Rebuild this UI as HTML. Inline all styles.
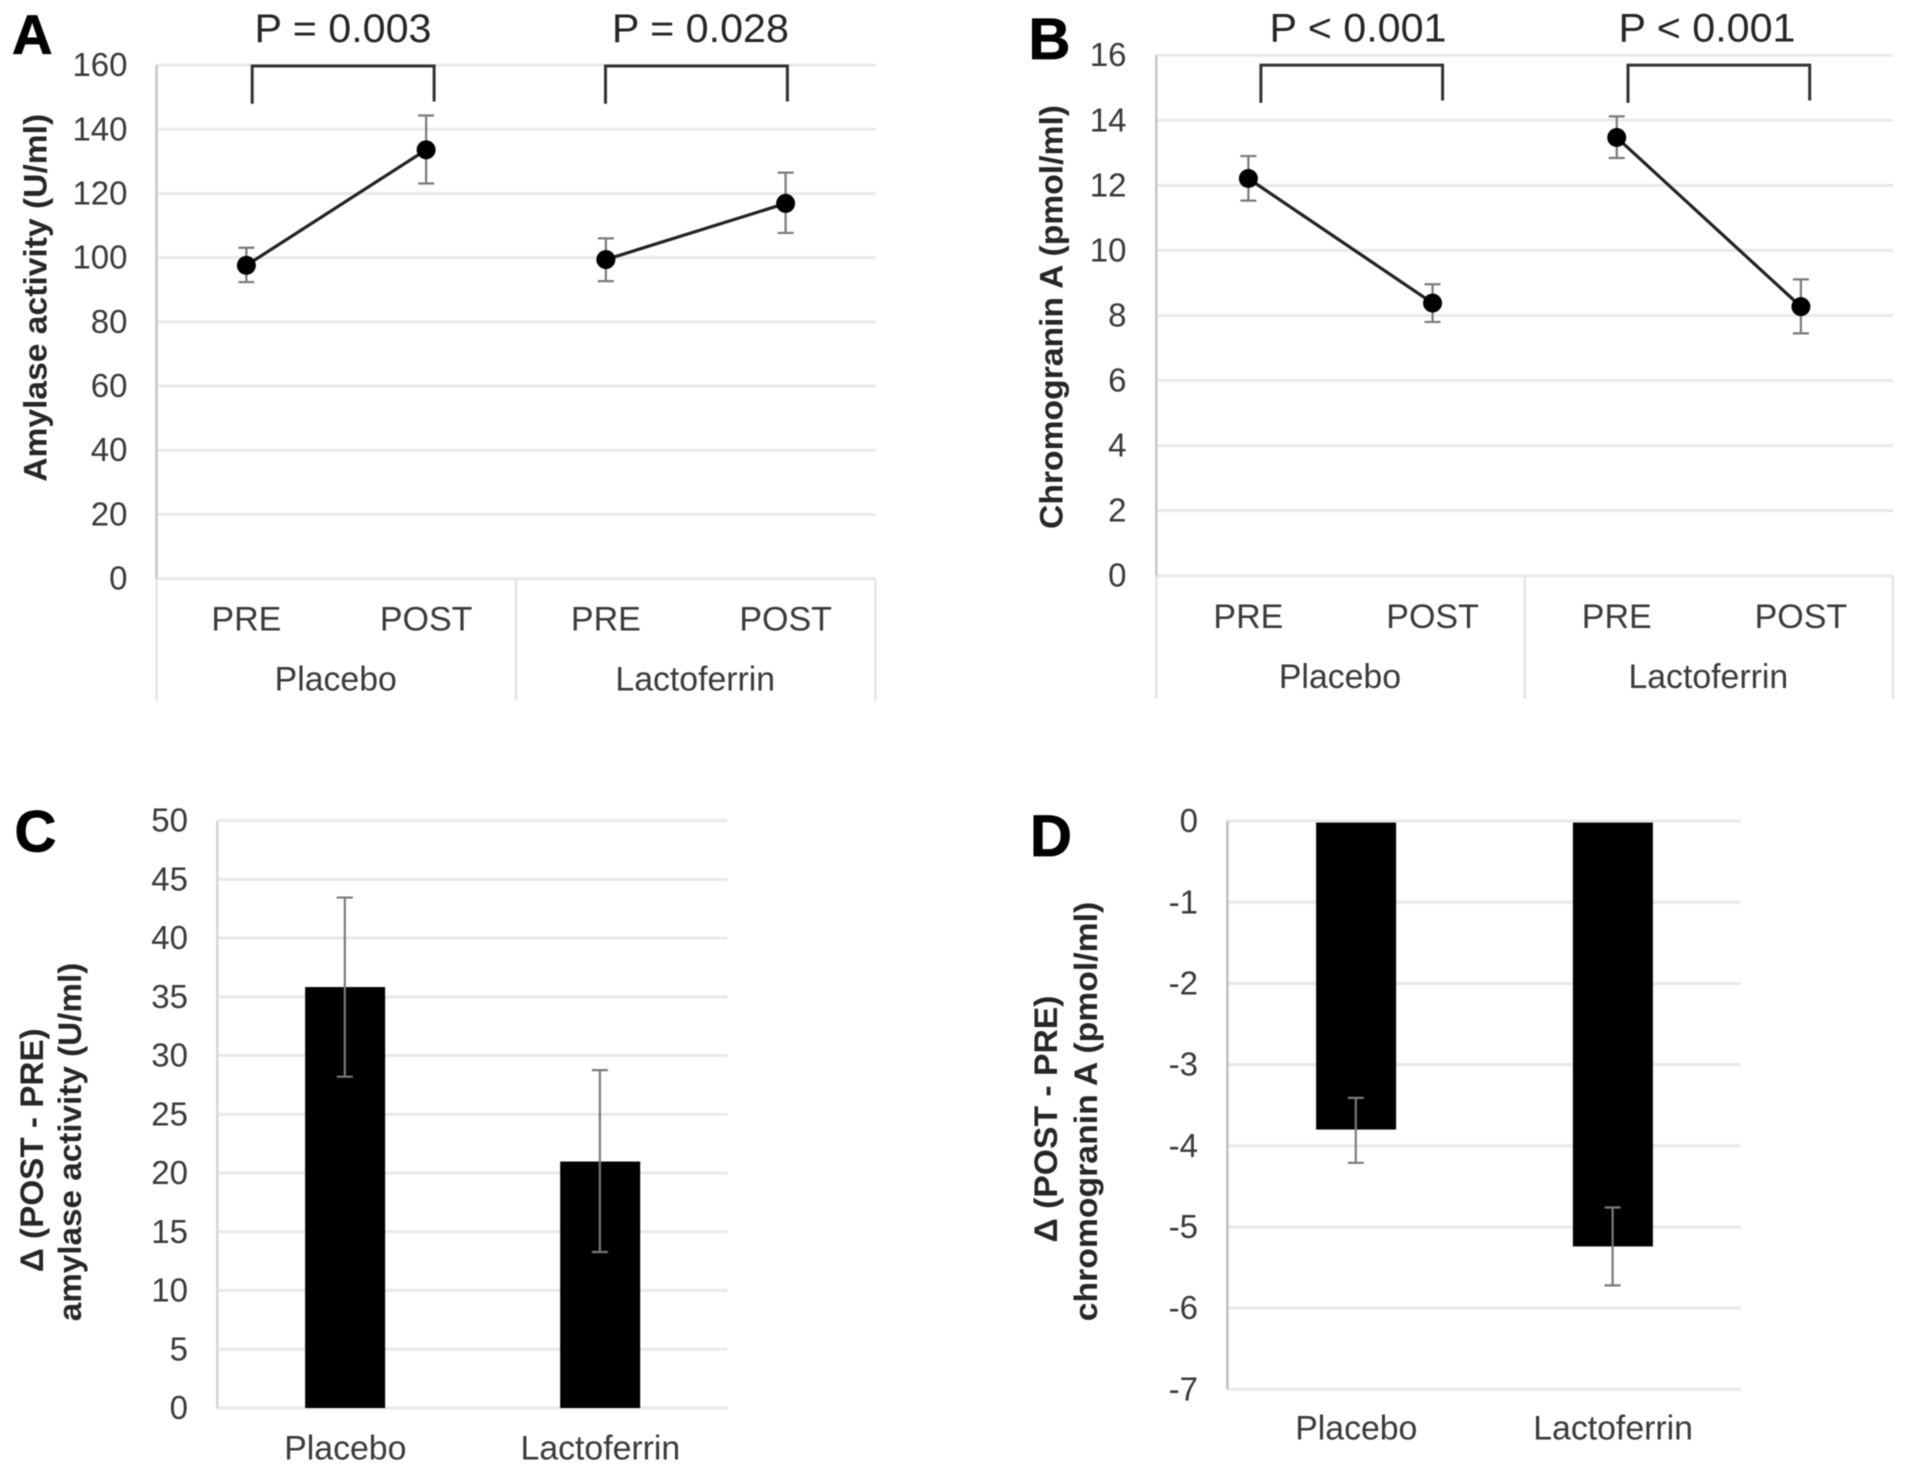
<!DOCTYPE html>
<html lang="en">
<head>
<meta charset="utf-8">
<title>Amylase activity and chromogranin A, placebo vs lactoferrin</title>
<style>
  html, body { margin: 0; padding: 0; background: #fff; }
  #figure { display: block; width: 1913px; height: 1475px; filter: blur(0.6px); }
  text { font-family: "Liberation Sans", sans-serif; }
</style>
</head>
<body>
<svg id="figure" xmlns="http://www.w3.org/2000/svg" width="1913" height="1475" viewBox="0 0 1913 1475"></svg>
<script>
// Panel A data
const aGroups = ['Placebo', 'Lactoferrin'];
const aPhases = ['PRE', 'POST'];
const aTicks = [0, 20, 40, 60, 80, 100, 120, 140, 160];
const aValues = [97.6, 133.6, 99.4, 116.9];
const aErrLow = [92.4, 123.1, 92.7, 107.7];
const aErrHigh = [103.1, 144.3, 106, 126.5];
const aPValues = ['P = 0.003', 'P = 0.028'];

// Panel B data
const bGroups = ['Placebo', 'Lactoferrin'];
const bPhases = ['PRE', 'POST'];
const bTicks = [0, 2, 4, 6, 8, 10, 12, 14, 16];
const bValues = [12.21, 8.38, 13.47, 8.27];
const bErrLow = [11.53, 7.8, 12.84, 7.45];
const bErrHigh = [12.9, 8.96, 14.12, 9.11];
const bPValues = ['P < 0.001', 'P < 0.001'];

// Panel C data
const cCategories = ['Placebo', 'Lactoferrin'];
const cTicks = [0, 5, 10, 15, 20, 25, 30, 35, 40, 45, 50];
const cValues = [35.83, 20.98];
const cErrLow = [28.2, 13.28];
const cErrHigh = [43.45, 28.76];

// Panel D data
const dCategories = ['Placebo', 'Lactoferrin'];
const dTicks = [0, -1, -2, -3, -4, -5, -6, -7];
const dValues = [-3.8, -5.24];
const dErrLow = [-4.21, -5.72];
const dErrHigh = [-3.41, -4.76];

const svg = document.getElementById('figure');
const NS = 'http://www.w3.org/2000/svg';

function add(parent, tag, attrs, name, content) {
  const el = document.createElementNS(NS, tag);
  for (const k in attrs) el.setAttribute(k, attrs[k]);
  
  
  if (content !== undefined) el.textContent = content;
  parent.appendChild(el);
  return el;
}

function panelGroup(name) {
  return add(svg, 'g', {}, name);
}

function linearAxis(min, max, bottom, top) {
  return v => bottom - (v - min) / (max - min) * (bottom - top);
}

function bandAxis(count, left, right) {
  const step = (right - left) / count;
  return i => left + step * (i + 0.5);
}

function drawFrame(g, layout, ticks, y) {
  ticks.forEach(t => {
    add(g, 'line', { x1: layout.left, x2: layout.right, y1: y(t), y2: y(t), stroke: '#e9e9e9', 'stroke-width': 3 }, 'gridline-' + t);
  });
  add(g, 'line', { x1: layout.left, x2: layout.left, y1: layout.top, y2: layout.bottom, stroke: layout.axisColor, 'stroke-width': 2.4 }, 'y-axis-line');
  ticks.forEach(t => {
    add(g, 'text', { x: layout.tickRight, y: y(t) + 11, 'text-anchor': 'end', 'font-size': 33, fill: '#3a3a3a' }, 'y-tick-label-' + t, String(t));
  });
}

function drawLetter(g, letter, x, y, size) {
  add(g, 'text', { x: x, y: y, 'font-size': size, 'font-weight': 'bold', fill: '#000', stroke: '#000', 'stroke-width': 0.8 }, 'panel-label-' + letter.toLowerCase(), letter);
}

function drawYTitle(g, text, baselineX, centerY, length, name) {
  add(g, 'text', {
    x: 0, y: 0,
    transform: 'translate(' + baselineX + ',' + centerY + ') rotate(-90)',
    'text-anchor': 'middle', 'font-size': 32, 'font-weight': 'bold', fill: '#262626',
    textLength: length, lengthAdjust: 'spacingAndGlyphs'
  }, name, text);
}

function drawError(g, x, y, low, high, name) {
  const cap = 8;
  const err = add(g, 'g', { stroke: '#7a7a7a', 'stroke-width': 2.2 }, name);
  add(err, 'line', { x1: x, x2: x, y1: y(high), y2: y(low) }, name + '-stem');
  add(err, 'line', { x1: x - cap, x2: x + cap, y1: y(high), y2: y(high) }, name + '-cap-high');
  add(err, 'line', { x1: x - cap, x2: x + cap, y1: y(low), y2: y(low) }, name + '-cap-low');
}

function drawLinePanel(id, layout, groups, phases, ticks, values, errLow, errHigh, pValues) {
  const g = panelGroup('panel-' + id);
  const y = linearAxis(ticks[0], ticks[ticks.length - 1], layout.bottom, layout.top);
  const x = bandAxis(groups.length * phases.length, layout.left, layout.right);
  drawFrame(g, layout, ticks, y);

  // multi-level category axis separators
  const mid = (layout.left + layout.right) / 2;
  [layout.left, mid, layout.right].forEach((sx, i) => {
    add(g, 'line', { x1: sx, x2: sx, y1: layout.bottom, y2: layout.catBottom, stroke: '#e4e4e4', 'stroke-width': 2.4 }, 'category-separator-' + i);
  });

  // phase and group labels
  groups.forEach((gr, gi) => {
    phases.forEach((ph, pi) => {
      const idx = gi * phases.length + pi;
      add(g, 'text', { x: x(idx), y: layout.phaseY, 'text-anchor': 'middle', 'font-size': 34, fill: '#3a3a3a' }, 'x-label-' + gr.toLowerCase() + '-' + ph.toLowerCase(), ph);
    });
    const gc = (x(gi * phases.length) + x(gi * phases.length + phases.length - 1)) / 2;
    add(g, 'text', { x: gc - 0.5, y: layout.groupY, 'text-anchor': 'middle', 'font-size': 33.8, fill: '#3a3a3a' }, 'group-label-' + gr.toLowerCase(), gr);
  });

  // series: one connected pair per group
  groups.forEach((gr, gi) => {
    const a = gi * 2, b = gi * 2 + 1;
    const key = gr.toLowerCase();
    drawError(g, x(a), y, errLow[a], errHigh[a], 'error-bar-' + key + '-pre');
    drawError(g, x(b), y, errLow[b], errHigh[b], 'error-bar-' + key + '-post');
    add(g, 'line', { x1: x(a), y1: y(values[a]), x2: x(b), y2: y(values[b]), stroke: '#222', 'stroke-width': 3.2 }, 'line-' + key);
    add(g, 'circle', { cx: x(a), cy: y(values[a]), r: 9.5, fill: '#000' }, 'point-' + key + '-pre');
    add(g, 'circle', { cx: x(b), cy: y(values[b]), r: 9.5, fill: '#000' }, 'point-' + key + '-post');
  });

  // significance brackets
  layout.brackets.forEach((br, i) => {
    add(g, 'path', {
      d: 'M' + br.x1 + ' ' + br.lowL + 'V' + layout.bracketTop + 'H' + br.x2 + 'V' + br.lowR,
      fill: 'none', stroke: '#333', 'stroke-width': 3
    }, 'significance-bracket-' + (i + 1));
    add(g, 'text', {
      x: br.tx, y: layout.pY, 'text-anchor': 'middle', 'font-size': 40, fill: '#262626',
      textLength: 177, lengthAdjust: 'spacingAndGlyphs'
    }, 'p-value-' + (i + 1), pValues[i]);
  });
  return g;
}

function drawBarPanel(id, layout, categories, ticks, values, errLow, errHigh) {
  const g = panelGroup('panel-' + id);
  const sorted = ticks.slice().sort((p, q) => p - q);
  const min = sorted[0], max = sorted[sorted.length - 1];
  const y = linearAxis(min, max, layout.bottom, layout.top);
  const x = bandAxis(categories.length, layout.left, layout.right);
  drawFrame(g, layout, ticks, y);

  const barW = 80;
  categories.forEach((c, i) => {
    const key = c.toLowerCase();
    const y0 = y(0), yv = y(values[i]);
    add(g, 'rect', { x: x(i) - barW / 2 + 0.3, y: Math.min(y0, yv) + layout.barInsetTop, width: barW, height: Math.abs(yv - y0) - layout.barInsetTop, fill: '#000' }, 'bar-' + key);
    drawError(g, x(i), y, errLow[i], errHigh[i], 'error-bar-' + key);
    add(g, 'text', { x: x(i) + 0.5, y: layout.labelY, 'text-anchor': 'middle', 'font-size': 33.8, fill: '#3a3a3a' }, 'x-label-' + key, c);
  });
  return g;
}

// Panel A
const gA = drawLinePanel('a', {
  left: 156.5, right: 875.5, top: 65.1, bottom: 578.6, catBottom: 700.8, tickRight: 127.5,
  axisColor: '#c4c4c4', phaseY: 630.5, groupY: 690.5, bracketTop: 66, pY: 42,
  brackets: [
    { x1: 252.2, x2: 434.1, lowL: 103.8, lowR: 101.5, tx: 343 },
    { x1: 605.5, x2: 787.4, lowL: 103.8, lowR: 101.5, tx: 700.4 }
  ]
}, aGroups, aPhases, aTicks, aValues, aErrLow, aErrHigh, aPValues);
drawYTitle(gA, 'Amylase activity (U/ml)', 46.5, 297.8, 368, 'y-axis-title-a');
drawLetter(gA, 'A', 12, 54, 56);

// Panel B
const gB = drawLinePanel('b', {
  left: 1156.3, right: 1893, top: 55.2, bottom: 575.7, catBottom: 698.4, tickRight: 1126.5,
  axisColor: '#c4c4c4', phaseY: 628, groupY: 688, bracketTop: 65.1, pY: 41.5,
  brackets: [
    { x1: 1260.9, x2: 1442.6, lowL: 102.9, lowR: 100.5, tx: 1358 },
    { x1: 1628, x2: 1809.7, lowL: 102.9, lowR: 100.5, tx: 1707 }
  ]
}, bGroups, bPhases, bTicks, bValues, bErrLow, bErrHigh, bPValues);
drawYTitle(gB, 'Chromogranin A (pmol/ml)', 1062.5, 317, 424, 'y-axis-title-b');
drawLetter(gB, 'B', 1028.5, 59, 58);

// Panel C
const gC = drawBarPanel('c', {
  left: 217.3, right: 727.4, top: 820.6, bottom: 1408, tickRight: 188,
  axisColor: '#d4d4d4', labelY: 1459.6, barInsetTop: 0
}, cCategories, cTicks, cValues, cErrLow, cErrHigh);
drawYTitle(gC, 'Δ (POST - PRE)', 42.9, 1150.2, 243.8, 'y-axis-title-c-line-1');
drawYTitle(gC, 'amylase activity (U/ml)', 80.8, 1142, 358.6, 'y-axis-title-c-line-2');
drawLetter(gC, 'C', 14.5, 851.5, 58);

// Panel D
const gD = drawBarPanel('d', {
  left: 1227.4, right: 1741, top: 821.1, bottom: 1389.3, tickRight: 1198,
  axisColor: '#bdbdbd', labelY: 1439.5, barInsetTop: 1.5
}, dCategories, dTicks, dValues, dErrLow, dErrHigh);
drawYTitle(gD, 'Δ (POST - PRE)', 1057.2, 1119, 247, 'y-axis-title-d-line-1');
drawYTitle(gD, 'chromogranin A (pmol/ml)', 1096.8, 1111.5, 419.6, 'y-axis-title-d-line-2');
drawLetter(gD, 'D', 1030, 855.8, 58);
</script>
</body>
</html>
